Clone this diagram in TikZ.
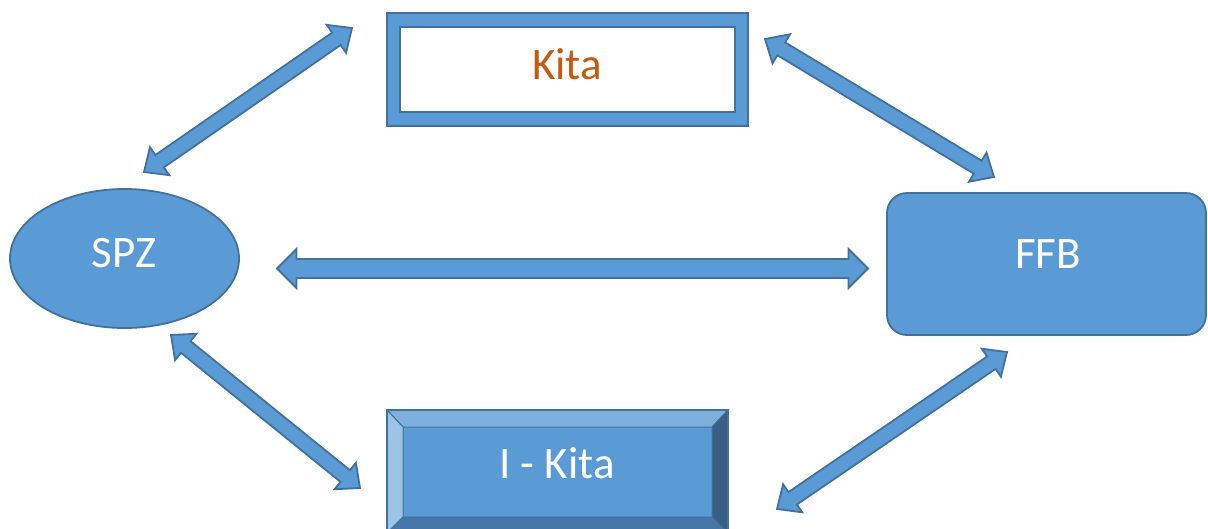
\documentclass[tikz,border=0pt]{standalone}
\usepackage{fontspec}
\setmainfont{Carlito}
\usetikzlibrary{calc,shapes.geometric}
\definecolor{fillblue}{HTML}{5B9BD5}
\definecolor{lineblue}{HTML}{41719C}
\definecolor{kitaorange}{HTML}{C55A11}
\definecolor{bevleft}{HTML}{9DC3E6}
\definecolor{bevtop}{HTML}{7EAFDD}
\definecolor{bevright}{HTML}{3A5F86}
\definecolor{bevbottom}{HTML}{4876A8}
\tikzset{
  shapeblue/.style={draw=lineblue, fill=fillblue, line width=1.8pt, inner sep=0pt},
  bevelpart/.style={draw=lineblue, line width=1pt, line join=round},
  bigtext/.style={font=\fontsize{45}{54}\selectfont, anchor=base, inner sep=0pt},
  arrowblock/.style={draw=lineblue, fill=fillblue, line width=1.8pt, line join=miter},
}
% #1 from, #2 to, #3 half shaft width, #4 half head width, #5 head length
\newcommand{\dblarrow}[5]{%
  \path[arrowblock] (#1)
    -- ($(#1)!#5!(#2)!#4!90:(#2)$)
    -- ($(#1)!#5!(#2)!#3!90:(#2)$)
    -- ($(#2)!#5!(#1)!#3!-90:(#1)$)
    -- ($(#2)!#5!(#1)!#4!-90:(#1)$)
    -- (#2)
    -- ($(#2)!#5!(#1)!#4!90:(#1)$)
    -- ($(#2)!#5!(#1)!#3!90:(#1)$)
    -- ($(#1)!#5!(#2)!#3!-90:(#2)$)
    -- ($(#1)!#5!(#2)!#4!-90:(#2)$)
    -- cycle;}
\begin{document}
\begin{tikzpicture}[x=1pt,y=-1pt]
\useasboundingbox (0,0) rectangle (1208,528);
% Kita: framed box
\node[shapeblue, minimum width=361pt, minimum height=113pt] (kita) at (567.5,69.5) {};
\draw[draw=lineblue, fill=white, line width=1.8pt] (400,27) rectangle (735,112);
\node[bigtext, text=kitaorange] (kitatext) at (567,79) {Kita};
% SPZ ellipse
\node[shapeblue, ellipse, minimum width=229pt, minimum height=139pt] (spz) at (124.5,258.5) {};
\node[bigtext, text=white] (spztext) at (124,267) {SPZ};
% FFB rounded rectangle
\node[shapeblue, rounded corners=20pt, minimum width=319pt, minimum height=142pt] (ffb) at (1046.5,264) {};
\node[bigtext, text=white] (ffbtext) at (1048,268) {FFB};
% I-Kita bevel box
\node[inner sep=0pt, minimum width=341pt, minimum height=123pt] (ikita) at (557.5,471.5) {};
\fill[fillblue] (403,427) rectangle (712,517);
\draw[bevelpart, fill=bevtop] (387,410) -- (728,410) -- (712,427) -- (403,427) -- cycle;
\draw[bevelpart, fill=bevleft] (387,410) -- (403,427) -- (403,517) -- (387,533) -- cycle;
\draw[bevelpart, fill=bevright] (728,410) -- (728,533) -- (712,517) -- (712,427) -- cycle;
\draw[bevelpart, fill=bevbottom] (403,517) -- (712,517) -- (728,533) -- (387,533) -- cycle;
\draw[draw=lineblue, line width=1.8pt] (387,410) rectangle (728,533);
\node[bigtext, text=white] (ikitatext) at (557,478) {I - Kita};
% arrow end points
\coordinate (a1s) at (144,172); \coordinate (a1e) at (352,28);
\coordinate (a2s) at (765,39);  \coordinate (a2e) at (994,177);
\coordinate (a3s) at (277,268.5); \coordinate (a3e) at (868,268.5);
\coordinate (a4s) at (171,335); \coordinate (a4e) at (360,488);
\coordinate (a5s) at (1007,352); \coordinate (a5e) at (777,509);
\dblarrow{a1s}{a1e}{7.5pt}{17pt}{19pt}
\dblarrow{a2s}{a2e}{7.5pt}{17pt}{19pt}
\dblarrow{a3s}{a3e}{9.5pt}{19.5pt}{19.5pt}
\dblarrow{a4s}{a4e}{7.5pt}{17pt}{19pt}
\dblarrow{a5s}{a5e}{7.5pt}{17pt}{19pt}
\end{tikzpicture}
\end{document}
